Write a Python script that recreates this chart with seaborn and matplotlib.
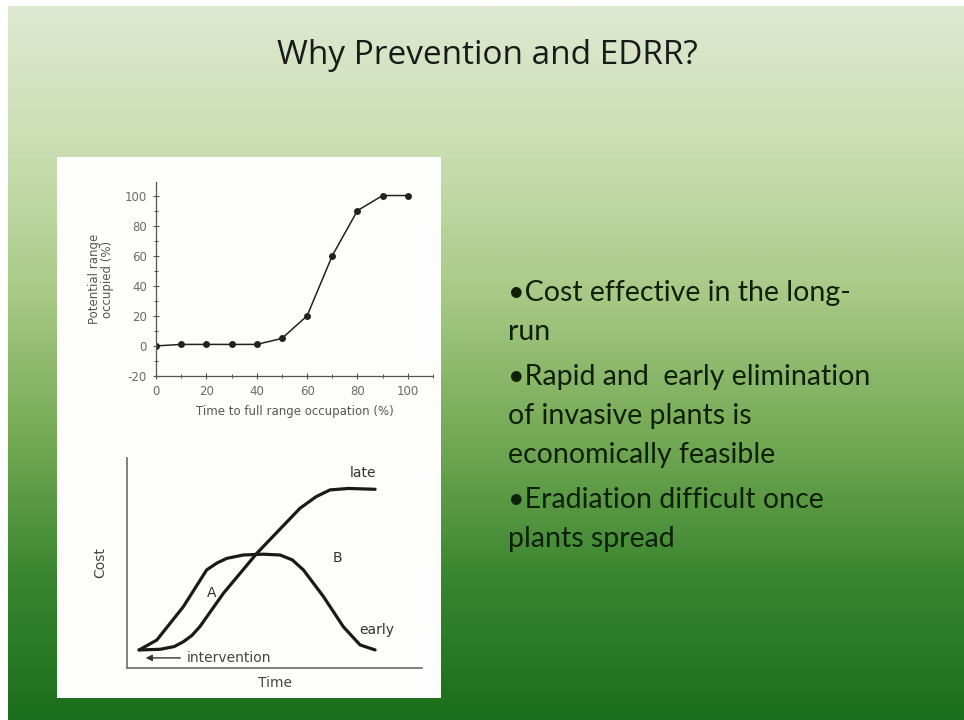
import numpy as np
import pandas as pd
import matplotlib
matplotlib.use("Agg")
import matplotlib.pyplot as plt
from matplotlib.colors import LinearSegmentedColormap
from matplotlib.patches import Rectangle
import seaborn as sns

# ---------------- data ----------------
title = "Why Prevention and EDRR?"

time_pct = [0, 10, 20, 30, 40, 50, 60, 70, 80, 90, 100]
range_pct = [0, 1, 1, 1, 1, 5, 20, 60, 90, 100, 100]
x_ticks_top = [0, 20, 40, 60, 80, 100]
y_ticks_top = [-20, 0, 20, 40, 60, 80, 100]

early_time = [0.41, 1.01, 1.91, 2.70, 3.05, 3.38, 3.94, 4.60, 5.19, 5.60, 5.98,
              6.66, 7.33, 7.90, 8.41]
early_cost = [0.86, 1.33, 2.92, 4.67, 5.00, 5.22, 5.38, 5.42, 5.38, 5.15, 4.67,
              3.40, 1.97, 1.10, 0.86]
late_time = [0.41, 1.12, 1.60, 1.91, 2.20, 2.47, 3.27, 4.40, 5.86, 6.40, 6.88,
             7.50, 8.41]
late_cost = [0.86, 0.89, 1.02, 1.25, 1.55, 1.97, 3.56, 5.46, 7.60, 8.15, 8.48,
             8.55, 8.51]

bullets = [
    ["\u2022Cost effective in the long-", "run"],
    ["\u2022Rapid and  early elimination", "of invasive plants is", "economically feasible"],
    ["\u2022Eradiation difficult once", "plants spread"],
]

W, H = 964, 720
sns.set_theme(style="white")
plt.rcParams['font.family'] = ['Lato', 'DejaVu Sans']
plt.rcParams['axes.unicode_minus'] = False

fig = plt.figure(figsize=(W / 100, H / 100), dpi=100)
fig.patch.set_facecolor("white")

# ---------------- background gradient ----------------
bg = fig.add_axes([8 / W, 0, (W - 8) / W, (H - 6) / H])
bg.set_axis_off()
cmap = LinearSegmentedColormap.from_list(
    "slide",
    [(0.0, (222/255, 232/255, 208/255)),
     (0.2, (202/255, 222/255, 178/255)),
     (0.4, (168/255, 202/255, 134/255)),
     (0.6, (118/255, 170/255, 86/255)),
     (0.8, (58/255, 134/255, 48/255)),
     (1.0, (27/255, 110/255, 27/255))])
grad = np.linspace(0, 1, 400).reshape(-1, 1)
bg.imshow(grad, aspect="auto", cmap=cmap, extent=[0, 1, 0, 1], origin="upper")
bg.set_xlim(0, 1)
bg.set_ylim(0, 1)

# white panel (drawn inside the background axes so charts sit above it)
bg.add_patch(Rectangle((57 / W, 1 - 698 / H), (441 - 57) / W, (698 - 157) / H,
                       transform=fig.transFigure, facecolor="#fdfdfb",
                       edgecolor="none", zorder=5))

# title
fig.text(487 / W, 1 - 56 / H, title, ha="center", va="center",
         fontsize=24, color="#1a1a1a", family=['Open Sans', 'DejaVu Sans'])

# bullets
y = 293
for group in bullets:
    for line in group:
        fig.text(508 / W, 1 - y / H, line, ha="left", va="center",
                 fontsize=20.5, color="#0f1f08")
        y += 39
    y += 6

# ---------------- top chart ----------------
ax1 = fig.add_axes([156 / W, 1 - 376 / H, (433 - 156) / W, (376 - 182) / H])
ax1.patch.set_alpha(0)
df1 = pd.DataFrame({"time": time_pct, "range": range_pct})
sns.lineplot(data=df1, x="time", y="range", ax=ax1, color="#222222",
             linewidth=1.1, marker="o", markersize=5, markeredgewidth=0)
ax1.set_xlim(0, 110)
ax1.set_ylim(-20, 109)
ax1.set_xticks(x_ticks_top)
ax1.set_yticks(y_ticks_top)
ax1.set_xticks(np.arange(10, 111, 20), minor=True)
ax1.set_yticks(np.arange(-10, 101, 20), minor=True)
for s in ["top", "right"]:
    ax1.spines[s].set_visible(False)
for s in ["left", "bottom"]:
    ax1.spines[s].set_color("#555555")
    ax1.spines[s].set_linewidth(0.9)
ax1.tick_params(axis="both", which="major", direction="inout", length=5, width=0.8,
                color="#555555", labelsize=8.5, labelcolor="#6a6a6a", pad=4,
                left=True, bottom=True)
ax1.tick_params(axis="both", which="minor", direction="inout", length=3, width=0.7,
                color="#555555", left=True, bottom=True)
ax1.set_xlabel("Time to full range occupation (%)", fontsize=8.5, color="#555555",
               labelpad=5, family=['DejaVu Sans'])
ax1.set_ylabel("Potential range\noccupied (%)", fontsize=8.5, color="#555555",
               labelpad=8, linespacing=1.0, family=['DejaVu Sans'])
for t in ax1.get_xticklabels() + ax1.get_yticklabels():
    t.set_family(['DejaVu Sans'])

# ---------------- bottom chart ----------------
ax2 = fig.add_axes([127 / W, 1 - 668 / H, (422 - 127) / W, (668 - 458) / H])
ax2.patch.set_alpha(0)
df_e = pd.DataFrame({"time": early_time, "cost": early_cost})
df_l = pd.DataFrame({"time": late_time, "cost": late_cost})
sns.lineplot(data=df_e, x="time", y="cost", ax=ax2, color="#1a1a1a", linewidth=2.3,
             sort=False)
sns.lineplot(data=df_l, x="time", y="cost", ax=ax2, color="#1a1a1a", linewidth=2.3,
             sort=False)
ax2.set_xlim(0, 10)
ax2.set_ylim(0, 10)
ax2.set_xticks([])
ax2.set_yticks([])
for s in ["top", "right"]:
    ax2.spines[s].set_visible(False)
for s in ["left", "bottom"]:
    ax2.spines[s].set_color("#777777")
    ax2.spines[s].set_linewidth(1.3)
ax2.set_xlabel("Time", fontsize=10, color="#444444", labelpad=6, family=['DejaVu Sans'])
ax2.set_ylabel("Cost", fontsize=10, color="#444444", labelpad=14, family=['DejaVu Sans'])

lab = dict(fontsize=10, color="#333333", family=['DejaVu Sans'])
ax2.text(8.0, 9.29, "late", ha="center", va="center", **lab)
ax2.text(7.15, 5.24, "B", ha="center", va="center", **lab)
ax2.text(2.88, 3.57, "A", ha="center", va="center", **lab)
ax2.text(8.47, 1.81, "early", ha="center", va="center", **lab)
ax2.text(2.03, 0.48, "intervention", ha="left", va="center", fontsize=10,
         color="#444444", family=['DejaVu Sans'])
ax2.annotate("", xy=(0.54, 0.48), xytext=(1.90, 0.48),
             arrowprops=dict(arrowstyle="-|>", color="#333333", lw=1.0,
                             mutation_scale=9))

fig.savefig("out.png", dpi=100, facecolor=fig.get_facecolor())
